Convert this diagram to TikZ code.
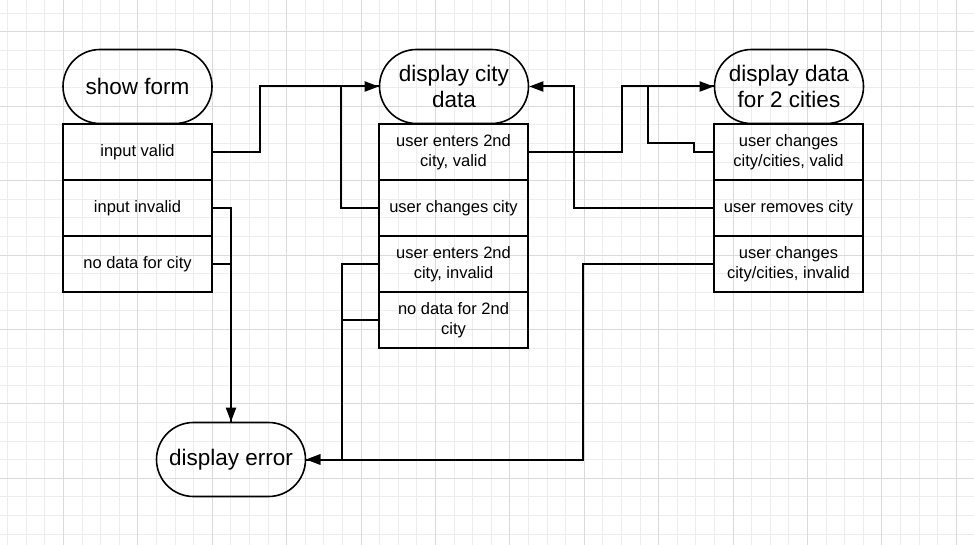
\documentclass[tikz,border=0pt]{standalone}
\usepackage{fontspec}
\setmainfont{Liberation Sans}
\usetikzlibrary{arrows.meta}

\definecolor{gridminor}{HTML}{EDEDED}
\definecolor{gridmajor}{HTML}{DADADA}

\tikzset{
  terminal/.style={draw, line width=1.6pt, rounded corners=37pt,
    minimum width=149pt, minimum height=74pt, inner sep=0pt, align=center,
    font=\fontsize{22.5}{26}\selectfont},
  outcome/.style={draw, line width=2pt, minimum width=149pt,
    minimum height=56pt, inner sep=0pt, align=center,
    font=\fontsize{16.5}{20}\selectfont},
  link/.style={line width=2pt, -{Triangle[length=14pt,width=10pt]}},
  joint/.style={line width=2pt},
}

\begin{document}
\begin{tikzpicture}[x=1pt, y=-1pt]

        \useasboundingbox (0,0) rectangle (974,545);

        % grid paper
        \foreach \i in {0,...,52} {
          \draw[gridminor, line width=1pt] ({7.7+18.6*\i},0) -- ({7.7+18.6*\i},545);
        }
        \foreach \i in {0,...,29} {
          \draw[gridminor, line width=1pt] (0,{13.3+18.6*\i}) -- (974,{13.3+18.6*\i});
        }
        \foreach \i in {0,...,12} {
          \draw[gridmajor, line width=1pt] ({63.5+74.4*\i},0) -- ({63.5+74.4*\i},545);
        }
        \foreach \i in {0,...,7} {
          \draw[gridmajor, line width=1pt] (0,{31.9+74.4*\i}) -- (974,{31.9+74.4*\i});
        }

        \begin{scope}[every node/.style={terminal}]
          \node (form)  at (137.5,86.5) {show form};
          \node (city)  at (454,86.5)   {display city\\data};
          \node (dual)  at (789,86.5)   {display data\\for 2 cities};
          \node (error) at (231,459.5)  {display error};
        \end{scope}

        \begin{scope}[every node/.style={outcome}]
          \node (fvalid)   at (137.5,152) {input valid};
          \node (finvalid) at (137.5,208) {input invalid};
          \node (fnodata)  at (137.5,264) {no data for city};

          \node (cvalid)   at (453.5,152) {user enters 2nd\\city, valid};
          \node (cchange)  at (453.5,208) {user changes city};
          \node (cinvalid) at (453.5,264) {user enters 2nd\\city, invalid};
          \node (cnodata)  at (453.5,320) {no data for 2nd\\city};

          \node (dvalid)   at (788.5,152) {user changes\\city/cities, valid};
          \node (dremove)  at (788.5,208) {user removes city};
          \node (dinvalid) at (788.5,264) {user changes\\city/cities, invalid};
        \end{scope}

        % show form
        \draw[link]  (fvalid.east) -- ++(47,0) |- (city.west);
        \draw[link]  (finvalid.east) -| (error.north);
        \draw[joint] (fnodata.east) -| (error.north);

        % display city data
        \draw[joint] (cchange.west) -- ++(-37,0) |- (city.west);
        \draw[link]  (cvalid.east) -- ++(93,0) |- (dual.west);
        \draw[link]  (cinvalid.west) -- ++(-36,0) |- (error.east);
        \draw[joint] (cnodata.west) -- ++(-36,0) |- (error.east);

        % display data for 2 cities
        \draw[joint] (dvalid.west) -- ++(-19,0) -- ++(0,-9) -- ++(-46,0) |- (dual.west);
        \draw[link]  (dremove.west) -- ++(-139,0) |- (city.east);
        \draw[link]  (dinvalid.west) -- ++(-130,0) |- (error.east);

      \end{tikzpicture}
\end{document}
